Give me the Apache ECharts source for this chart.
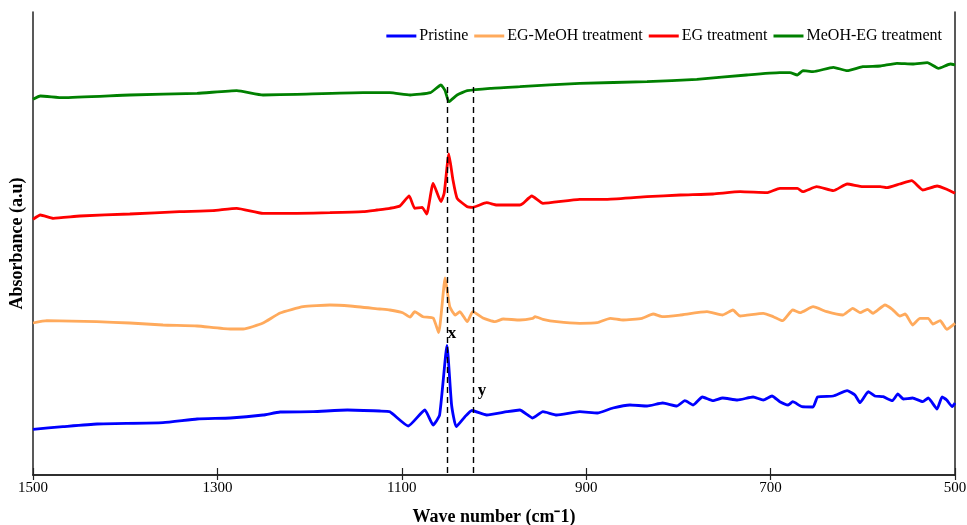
<!DOCTYPE html>
<html>
<head>
<meta charset="utf-8">
<script src="https://cdn.jsdelivr.net/npm/echarts@6/dist/echarts.min.js"></script>
<style>
html,body{margin:0;padding:0;background:#fff;}
#c{width:967px;height:525px;}
</style>
</head>
<body>
<div id="c"></div>
<script>
// Wavenumber (cm-1), absorbance (arbitrary units, stacked offsets)
const pristine = [
[1500,45.7],[1467.5,48.3],[1430.6,51],[1359,52.3],[1322,56],[1286,57],[1250.5,60],[1232,63],[1196,63.3],[1159,65],[1124,64],[1113,63.3],[1093,49],[1075,65],[1066,50],[1059,60],[1051,129.5],[1046,70],[1041,48.3],[1031.5,58.3],[1024,64.5],[1008,60],[986,63.3],[972,65],[958,57],[947,63.3],[932,60],[907,63.3],[888,62],[871,67],[852.5,70],[834,69],[817,72],[801.5,69],[793,74.3],[784,70],[774,78],[762.5,74.3],[752,77],[736,75],[719,78],[708,75],[698.5,79],[690,73.3],[681,70],[676,73.3],[666,68.3],[654,68],[649,78],[632,79],[617,84.3],[608.5,80],[603,72.3],[594,83.3],[587,79],[578,78.3],[568,74.3],[562,81],[556,76],[546,77],[535,73.3],[529,77],[519.5,66],[514,78],[509,75],[503,68.3],[500,72]
];
const egMeoh = [
[1500,152],[1485,154.3],[1431,153.3],[1395,152],[1359,150],[1322,149],[1286,146],[1272,146],[1250.5,152],[1232,162],[1207,168.3],[1178,170],[1156,169],[1124,166],[1113,165],[1099,162.3],[1091,158],[1086,163.3],[1077,158.3],[1066,157],[1060,142.3],[1053,197],[1048,168.3],[1042,160],[1037,163.3],[1029,153.3],[1023,163.3],[1012,157],[999,153.3],[990,156],[972,155],[958,156.7],[955.5,158.3],[947,155.7],[932,153.3],[907,151.7],[888,152.3],[874,156.7],[860,155],[839.5,156.7],[827.5,161],[817,158.3],[798,160],[769,163.3],[752,160],[741,165],[733,159],[708,161.7],[697,158.3],[687,154.3],[676,165],[668,162.3],[654,168.3],[639,163.3],[621.5,160],[611,166.7],[603,162.3],[595,165.7],[589,161.7],[576,170],[568,165.7],[560,159],[554,161],[546,150],[538,156.7],[529,156.7],[524,151],[516,154.3],[509,145.7],[500,151.7]
];
const egTreat = [
[1500,255.7],[1492,260],[1478,256.7],[1449,259],[1395,261],[1341,263.3],[1305,264.3],[1279,266.7],[1250.5,261.7],[1214,261.7],[1178,262.3],[1142,263.3],[1127,265],[1113,266.7],[1102,269],[1092,279],[1086,266.7],[1078,267.7],[1073,261],[1066,291.7],[1057.5,273.3],[1054,282],[1049,321],[1044.5,295],[1040,276.7],[1029,268.3],[1023,267.7],[1008,272.3],[997,270],[972,270],[968.5,271.7],[959,279],[947,271.7],[907,275.7],[877,275.7],[834,278.3],[798,280],[762.5,281],[733,283.3],[704,282.3],[690,286.7],[671,286.7],[665,283.3],[650,288.3],[632,284.3],[617,291],[600,288.3],[581,288.3],[574,287.3],[560,291],[547,294.3],[535,285],[519.5,289],[509,285.7],[500,281.7]
];
const meohEg = [
[1500,375.7],[1492,379],[1467.5,377.3],[1395,380],[1322,381.7],[1279,384.3],[1250.5,380],[1214,380.7],[1142,382.3],[1124,382.3],[1113,382.3],[1091,380],[1069,382.3],[1057.5,390],[1053,384.3],[1049,373.3],[1040,380],[1029,384.3],[1004,386.7],[972,388.3],[907,391.7],[834,393.3],[780,395.7],[726,400],[690,402.3],[679,402.3],[671,400],[665,404.3],[654,403.3],[632,407.7],[617,404.3],[600,408.3],[581,409],[563,411.7],[546,411],[530,412.3],[518,406.7],[505,411],[500,410]
];
const seriesNames = ['Pristine','EG-MeOH treatment','EG treatment','MeOH-EG treatment'];
const xTicks = [500,700,900,1100,1300,1500];
const refLines = [1051,1022];
const refTop = 388;
const peakLabels = [{name:'x', pos:[1045.6,141]}, {name:'y', pos:[1013,84]}];

const serif = '"Liberation Serif","Times New Roman",serif';
const colors = ['#0000ff','#ffaa5c','#ff0000','#008000'];
const datasets = [pristine, egMeoh, egTreat, meohEg];

const chart = echarts.init(document.getElementById('c'), null, {renderer:'canvas'});
const series = datasets.map((d,i)=>({
  name: seriesNames[i], type:'line', data:d, symbol:'none', smooth:0.15,
  lineStyle:{width:2.8,color:colors[i]}, itemStyle:{color:colors[i]}, z:3
}));
series[0].markLine = {
  silent:true, symbol:['none','none'], label:{show:false},
  lineStyle:{color:'#000',type:[6,4],width:1.4},
  data: refLines.map(v=>[{coord:[v,refTop]},{coord:[v,0]}])
};
series[0].markPoint = {
  silent:true, symbol:'circle', symbolSize:0,
  label:{show:true, formatter:p=>p.name, color:'#000', fontFamily:serif, fontWeight:'bold', fontSize:17},
  data: peakLabels.map(p=>({name:p.name, coord:p.pos}))
};

chart.setOption({
  animation:false,
  backgroundColor:'#fff',
  grid:{left:33,right:12,top:12,bottom:50,show:false,containLabel:false,outerBoundsMode:'none'},
  legend:{
    top:23, right:20, itemWidth:30, itemHeight:3, itemGap:6,
    icon:'rect',
    textStyle:{fontFamily:serif,fontSize:16,color:'#000',padding:[0,0,0,-2]},
    data:seriesNames
  },
  xAxis:[{
    type:'value', min:500, max:1500, inverse:true,
    name:'Wave number (cm\u207B1)', nameLocation:'middle', nameGap:33,
    nameTextStyle:{fontFamily:serif,fontSize:18,fontWeight:'bold',color:'#000'},
    axisLine:{show:true,lineStyle:{color:'#222',width:1.5}},
    axisTick:{show:true,inside:true,length:7,customValues:xTicks,lineStyle:{color:'#222',width:1.2}},
    axisLabel:{customValues:xTicks,formatter:v=>String(v),fontFamily:serif,fontSize:15,color:'#000',margin:6},
    splitLine:{show:false}
  },{
    type:'value', min:500, max:1500, inverse:true, position:'top',
    axisLine:{show:true,lineStyle:{color:'#222',width:1.5}},
    axisTick:{show:true,inside:true,length:5,customValues:xTicks,lineStyle:{color:'#222',width:1.2}},
    axisLabel:{show:false}, splitLine:{show:false}
  }],
  yAxis:[{
    type:'value', min:0, max:463,
    name:'Absorbance (a.u)', nameLocation:'middle', nameGap:7,
    nameTextStyle:{fontFamily:serif,fontSize:18,fontWeight:'bold',color:'#000'},
    axisLine:{show:true,lineStyle:{color:'#222',width:1.5}},
    axisTick:{show:false}, axisLabel:{show:false}, splitLine:{show:false}
  },{
    type:'value', min:0, max:463, position:'right',
    axisLine:{show:true,lineStyle:{color:'#222',width:1.5}},
    axisTick:{show:false}, axisLabel:{show:false}, splitLine:{show:false}
  }],
  series: series
});
</script>
</body>
</html>
